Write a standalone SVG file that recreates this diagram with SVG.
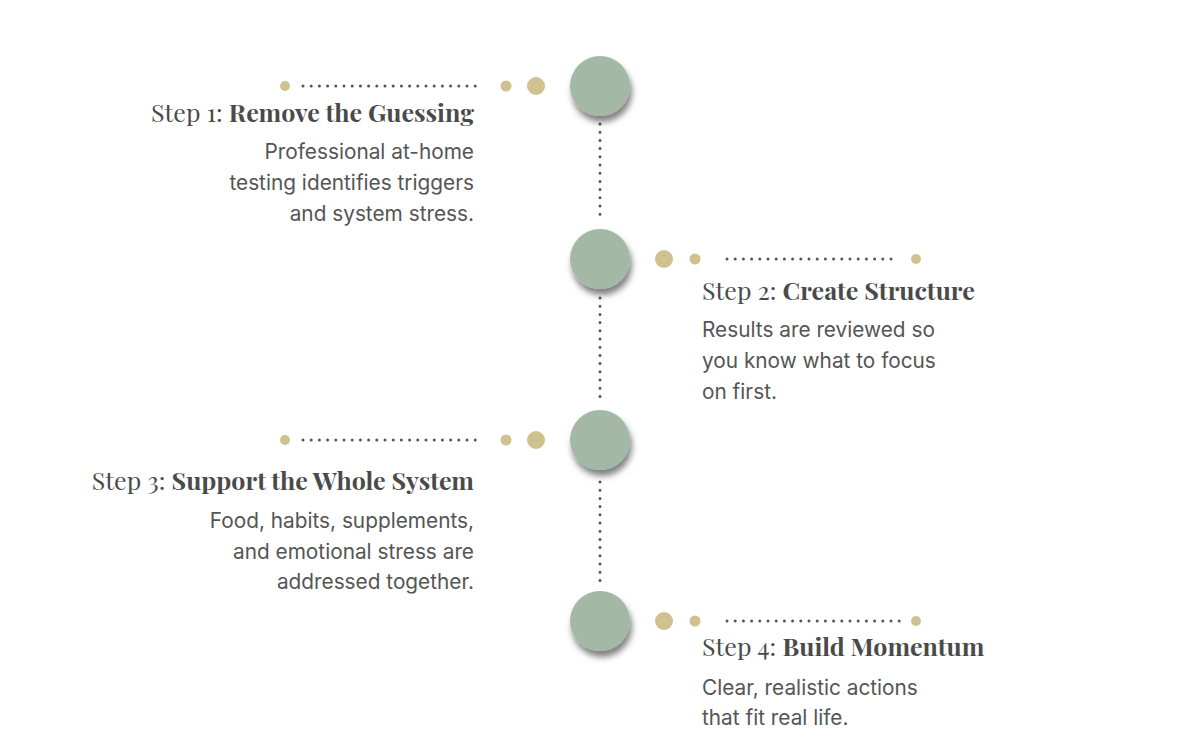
<svg xmlns="http://www.w3.org/2000/svg" width="1200" height="750" viewBox="0 0 1200 750">
<defs>
<filter id="sh" x="-50%" y="-50%" width="200%" height="200%">
<feDropShadow dx="2" dy="6" stdDeviation="3" flood-color="#000" flood-opacity="0.5"/>
</filter>
<style>
.node{fill:#a3b9a6;filter:url(#sh)}
.gold{fill:#d0c190}
.dots{stroke:#555;stroke-width:3;stroke-linecap:round;stroke-dasharray:0 8.2;fill:none}
.title{font-family:"Playfair Display","Liberation Serif","DejaVu Serif",serif;font-size:25px;fill:#4a4a4a}
.title tspan.b{font-weight:bold}
.body{font-family:Inter,"Liberation Sans",sans-serif;font-size:20.8px;fill:#555}
.r{text-anchor:end}
</style>
</defs>
<rect width="1200" height="750" fill="#fff"/>
<g id="connectors">
<line class="dots" x1="600" y1="124" x2="600" y2="222"/>
<line class="dots" x1="600" y1="298" x2="600" y2="404"/>
<line class="dots" x1="600" y1="482" x2="600" y2="584"/>
<line class="dots" x1="303" y1="86" x2="479" y2="86"/>
<line class="dots" x1="727" y1="259" x2="893" y2="259"/>
<line class="dots" x1="303" y1="440" x2="479" y2="440"/>
<line class="dots" x1="727" y1="621" x2="902" y2="621"/>
</g>
<g id="step1">
<circle class="node" cx="600" cy="86" r="30"/>
<circle class="gold" cx="285" cy="86" r="5"/>
<circle class="gold" cx="506" cy="86" r="5.5"/>
<circle class="gold" cx="536" cy="86" r="9"/>
<text class="title r" x="474" y="122">Step 1: <tspan class="b">Remove the Guessing</tspan></text>
<text class="body r" x="474" y="159">Professional at-home</text>
<text class="body r" x="474" y="190">testing identifies triggers</text>
<text class="body r" x="474" y="221">and system stress.</text>
</g>
<g id="step2">
<circle class="node" cx="600" cy="259" r="30"/>
<circle class="gold" cx="664" cy="259" r="9"/>
<circle class="gold" cx="695" cy="259" r="5.5"/>
<circle class="gold" cx="916" cy="259" r="5"/>
<text class="title" x="702" y="300">Step 2: <tspan class="b">Create Structure</tspan></text>
<text class="body" x="702" y="337">Results are reviewed so</text>
<text class="body" x="702" y="368">you know what to focus</text>
<text class="body" x="702" y="399">on first.</text>
</g>
<g id="step3">
<circle class="node" cx="600" cy="440" r="30"/>
<circle class="gold" cx="285" cy="440" r="5"/>
<circle class="gold" cx="506" cy="440" r="5.5"/>
<circle class="gold" cx="536" cy="440" r="9"/>
<text class="title r" x="474" y="490">Step 3: <tspan class="b">Support the Whole System</tspan></text>
<text class="body r" x="474" y="528">Food, habits, supplements,</text>
<text class="body r" x="474" y="559">and emotional stress are</text>
<text class="body r" x="474" y="589">addressed together.</text>
</g>
<g id="step4">
<circle class="node" cx="600" cy="621" r="30"/>
<circle class="gold" cx="664" cy="621" r="9"/>
<circle class="gold" cx="695" cy="621" r="5.5"/>
<circle class="gold" cx="916" cy="621" r="5"/>
<text class="title" x="702" y="656">Step 4: <tspan class="b">Build Momentum</tspan></text>
<text class="body" x="702" y="695">Clear, realistic actions</text>
<text class="body" x="702" y="725">that fit real life.</text>
</g>
</svg>
